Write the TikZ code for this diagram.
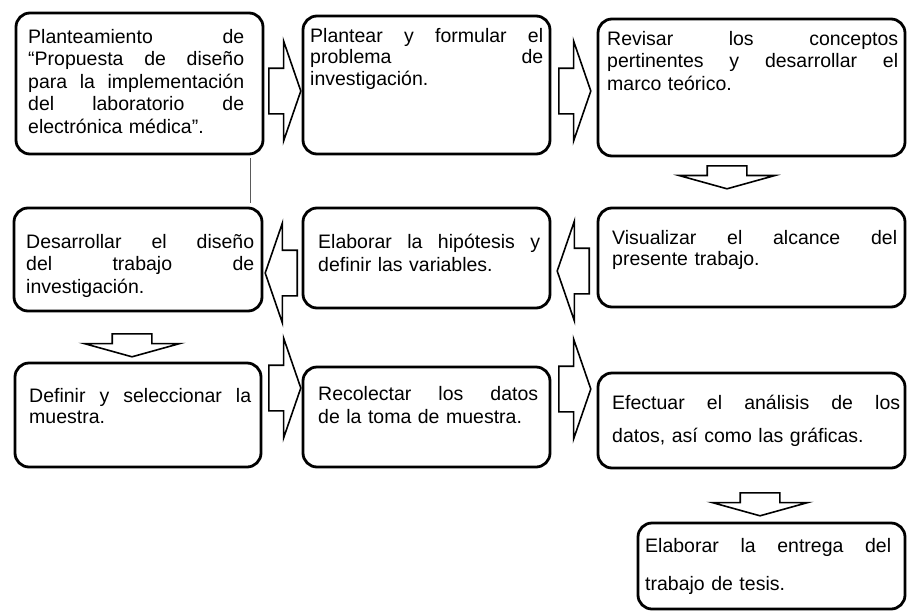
\documentclass[tikz,border=0pt]{standalone}
\usepackage{fontspec}
\setmainfont{Liberation Sans}
\definecolor{scangray}{RGB}{90,90,90}
\usetikzlibrary{shapes.arrows}
\tikzset{
  stepbox/.style={draw,line width=2.8pt,rounded corners=14pt,fill=white},
  steptext/.style={anchor=base west,inner sep=0pt,align=left,font=\fontsize{19.5}{#1}\selectfont},
  steptext/.default=22.5,
  blockarrow/.style={draw,line width=1.6pt,fill=white,single arrow,single arrow head extend=27pt,
    single arrow tip angle=142,inner xsep=0pt,inner ysep=22pt,minimum height=32pt,anchor=tail},
  downarrow/.style={blockarrow,rotate=-90,inner ysep=19pt,single arrow head extend=28pt,
    single arrow tip angle=149,minimum height=23pt},
  leftarrow/.style={blockarrow,rotate=180}
}
\begin{document}
\begin{tikzpicture}[x=1pt,y=-1pt]
  \useasboundingbox (0,0) rectangle (908,611);
  \node[stepbox,minimum width=247pt,minimum height=141pt] (b1) at (139.5,83.5) {};
  \node[stepbox,minimum width=247pt,minimum height=138pt] (b2) at (426.5,85) {};
  \node[stepbox,minimum width=307pt,minimum height=137pt] (b3) at (751.5,87.5) {};
  \node[stepbox,minimum width=248pt,minimum height=103pt] (b4) at (138,259.5) {};
  \node[stepbox,minimum width=247pt,minimum height=100pt] (b5) at (426.5,258) {};
  \node[stepbox,minimum width=307pt,minimum height=99pt] (b6) at (751.5,257.5) {};
  \node[stepbox,minimum width=246pt,minimum height=104pt] (b7) at (138,415) {};
  \node[stepbox,minimum width=247pt,minimum height=100pt] (b8) at (426.5,417) {};
  \node[stepbox,minimum width=307pt,minimum height=95pt] (b9) at (751.5,420.5) {};
  \node[stepbox,minimum width=267pt,minimum height=86pt] (b10) at (771.5,566) {};
  \node[steptext,text width=216pt] (t1) at (28,43) {Planteamiento \hfill de\\ “Propuesta \hfill de \hfill diseño\\ para \hfill la \hfill implementación\\ del \hfill laboratorio \hfill de\\ electrónica médica”.};
  \node[steptext=21.5,text width=233pt] (t2) at (310,42) {Plantear \hfill y \hfill formular \hfill el\\ problema \hfill de\\ investigación.};
  \node[steptext,text width=291pt] (t3) at (607,45) {Revisar \hfill los \hfill conceptos\\ pertinentes \hfill y \hfill desarrollar \hfill el\\ marco teórico.};
  \node[steptext,text width=228pt] (t4) at (26,248) {Desarrollar \hfill el \hfill diseño\\ del \hfill trabajo \hfill de\\ investigación.};
  \node[steptext=23,text width=222pt] (t5) at (318,248) {Elaborar \hfill la \hfill hipótesis \hfill y\\ definir las variables.};
  \node[steptext=21,text width=285pt] (t6) at (612,244) {Visualizar \hfill el \hfill alcance \hfill del\\ presente trabajo.};
  \node[steptext=21,text width=222pt] (t7) at (29,402) {Definir \hfill y \hfill seleccionar \hfill la\\ muestra.};
  \node[steptext=23,text width=220pt] (t8) at (318,400) {Recolectar \hfill los \hfill datos\\ de la toma de muestra.};
  \node[steptext=33,text width=288pt] (t9) at (612,409) {Efectuar \hfill el \hfill análisis \hfill de \hfill los\\ datos, así como las gráficas.};
  \node[steptext=38,text width=246pt] (t10) at (645,552) {Elaborar \hfill la \hfill entrega \hfill del\\ trabajo de tesis.};
  \node[blockarrow] (a12) at (268,91) {};
  \node[blockarrow] (a23) at (558,91) {};
  \node[downarrow] (a36) at (727,165) {};
  \node[leftarrow] (a65) at (590,271) {};
  \node[leftarrow] (a54) at (298,273) {};
  \node[downarrow] (a47) at (132,333) {};
  \node[blockarrow] (a78) at (268,388) {};
  \node[blockarrow] (a89) at (558,389) {};
  \node[downarrow] (a910) at (760,492) {};
  \coordinate (s1) at (250,158);
  \coordinate (s2) at (250,203);
  \draw[scangray,line width=0.6pt] (s1) -- (s2);
\end{tikzpicture}
\end{document}
